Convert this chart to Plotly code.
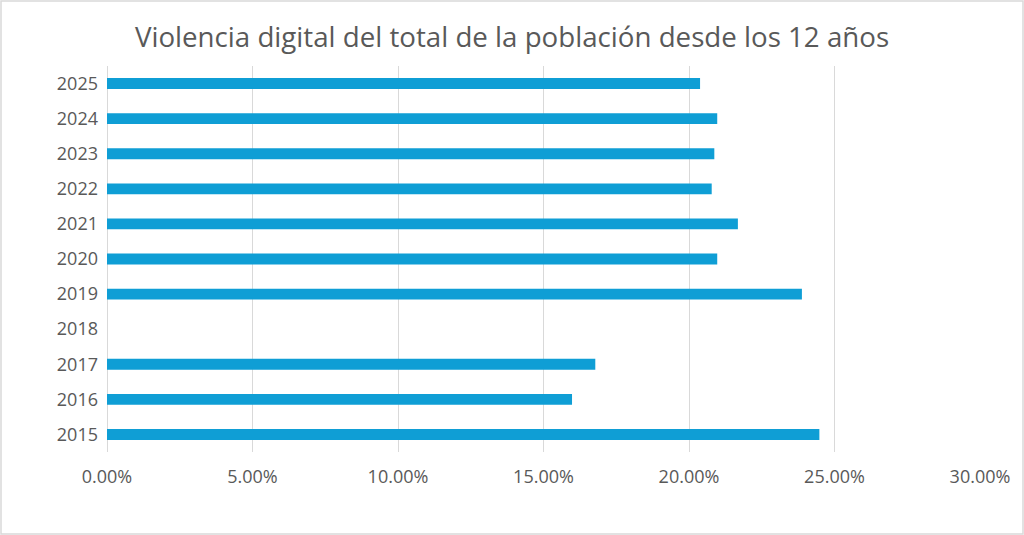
import plotly.graph_objects as go

years = ["2015", "2016", "2017", "2018", "2019", "2020", "2021", "2022", "2023", "2024", "2025"]
valores = [0.2448, 0.1598, 0.1678, None, 0.2388, 0.2097, 0.2168, 0.2078, 0.2087, 0.2097, 0.2038]
x_ticks = [0, 0.05, 0.10, 0.15, 0.20, 0.25, 0.30]

W, H = 1024, 535
ml, mr, mt, mb = 107, 44, 66, 83

fig = go.Figure()
fig.add_trace(go.Bar(
    x=valores, y=years, orientation="h",
    marker=dict(color="#0F9ED5", line=dict(width=0)),
    width=0.31,
    hoverinfo="x+y",
))

# borde del grafico
pw, ph = W - ml - mr, H - mt - mb
fig.add_shape(type="rect", xref="paper", yref="paper",
              x0=-(ml - 1) / pw, x1=1 + (mr - 1) / pw,
              y0=-(mb - 1) / ph, y1=1 + (mt - 1) / ph,
              line=dict(color="#d9d9d9", width=1.5), layer="below")

fig.update_layout(
    width=W, height=H,
    margin=dict(l=ml, r=mr, t=mt, b=mb),
    paper_bgcolor="white", plot_bgcolor="white",
    font=dict(family="Open Sans", color="#595959"),
    title=dict(text="Violencia digital del total de la población desde los 12 años",
               x=0.5, xanchor="center", y=1 - 37 / H, yanchor="middle",
               font=dict(size=27.7, color="#595959")),
    showlegend=False,
)
fig.update_xaxes(range=[0, 0.30], tickvals=x_ticks, tickformat=".2%",
                 showgrid=True, gridcolor="#d9d9d9", gridwidth=1,
                 zeroline=True, zerolinecolor="#d9d9d9", zerolinewidth=1,
                 showline=False, ticks="", tickfont=dict(size=18, color="#595959"),
                 ticklabelstandoff=12)
fig.update_yaxes(type="category", categoryorder="array", categoryarray=years,
                 showgrid=False, showline=False, ticks="",
                 tickfont=dict(size=18, color="#595959"), ticklabelstandoff=8)

fig.write_html("out.html", config={"displayModeBar": False},
               post_script="document.body.style.margin='0';")
